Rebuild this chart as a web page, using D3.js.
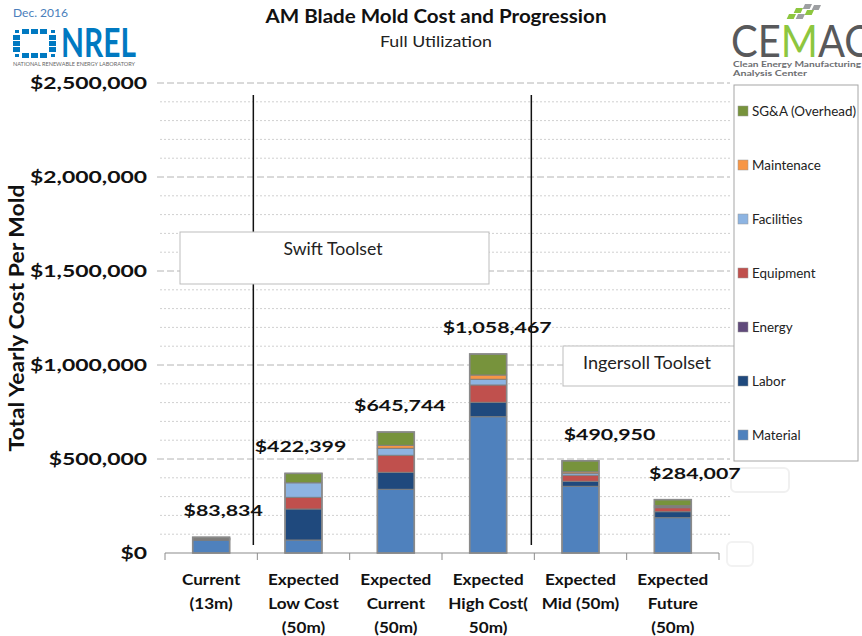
<!DOCTYPE html>
<html>
<head>
<meta charset="utf-8">
<script src="https://cdn.jsdelivr.net/npm/d3@7"></script>
<style>
  body { margin: 0; background: #fff; }
  text { font-family: Lato, "Open Sans", sans-serif; }
</style>
</head>
<body>
<div id="chart"></div>
<script>
var width = 862, height = 636;

// categories and their printed (multi-line) labels
var categories = ['Current', 'Low Cost', 'Exp Current', 'High Cost', 'Mid', 'Future'];
var catLines = [
  ['Current', '(13m)'],
  ['Expected', 'Low Cost', '(50m)'],
  ['Expected', 'Current', '(50m)'],
  ['Expected', 'High Cost(', '50m)'],
  ['Expected', 'Mid (50m)'],
  ['Expected', 'Future', '(50m)']
];

// series, bottom to top
var seriesNames = ['Material', 'Labor', 'Energy', 'Equipment', 'Facilities', 'Maintenace', 'SG&A (Overhead)'];
var seriesColors = ['#4f81bd', '#1f497d', '#604a7b', '#c0504d', '#8db4e2', '#f79646', '#77933c'];

var material    = [68000, 69200, 338800, 725000, 354800, 187800];
var labor       = [4000, 164800, 90400, 76600, 26600, 32000];
var energy      = [1200, 0, 0, 0, 0, 0];
var equipment   = [2000, 62000, 90400, 92000, 32000, 21200];
var facilities  = [1000, 77600, 37200, 30400, 10600, 5400];
var maintenance = [600, 0, 16000, 22800, 8000, 5400];
var sga         = [7000, 50000, 70800, 111800, 58600, 32000];

var totalLabels = ['$83,834', '$422,399', '$645,744', '$1,058,467', '$490,950', '$284,007'];

var yTicks = [0, 500000, 1000000, 1500000, 2000000, 2500000];

// layout tweaks
var labelDx = [12, -3, 4, 9, 29, 22];

var svg = d3.select('#chart').append('svg')
    .attr('width', width).attr('height', height);

var x = d3.scaleBand().domain(categories).range([165, 719])
    .paddingInner(0.6).paddingOuter(0.3);
var y = d3.scaleLinear().domain([0, 2500000]).range([553, 83]);

// stretch a selection of texts so a reference string hits a target width
function stretch(sel, k) {
  sel.each(function() {
    var w = this.getComputedTextLength();
    d3.select(this).attr('textLength', w * k).attr('lengthAdjust', 'spacingAndGlyphs');
  });
}
function fit(sel, w) {
  sel.attr('textLength', w).attr('lengthAdjust', 'spacingAndGlyphs');
}

// gridlines
var minor = d3.range(0, 2500001, 100000).filter(function(v) { return v % 500000 !== 0; });
svg.append('g').selectAll('line').data(minor).enter().append('line')
  .attr('x1', 160).attr('x2', 730)
  .attr('y1', function(d) { return y(d); }).attr('y2', function(d) { return y(d); })
  .attr('stroke', '#d0d0d0').attr('stroke-dasharray', '2,2');
svg.append('g').selectAll('line').data(yTicks.slice(1)).enter().append('line')
  .attr('x1', 157).attr('x2', 730)
  .attr('y1', function(d) { return y(d); }).attr('y2', function(d) { return y(d); })
  .attr('stroke', '#b4b4b4').attr('stroke-dasharray', '7,3');

// y axis labels
var yAxis = svg.append('g').attr('transform', 'translate(150,0)')
  .call(d3.axisLeft(y).tickValues(yTicks).tickFormat(d3.format('$,.0f')).tickSize(0).tickPadding(3));
yAxis.select('.domain').remove();
yAxis.selectAll('text')
  .attr('font-family', 'Lato, sans-serif')
  .attr('font-size', 17).attr('font-weight', 'bold').attr('fill', '#111');
(function() {
  var ref = yAxis.selectAll('text').filter(function(d) { return d === 2500000; }).node();
  var k = 117 / ref.getComputedTextLength();
  stretch(yAxis.selectAll('text'), k);
})();

// y axis title
var yTitle = svg.append('text')
  .attr('transform', 'translate(24,318) rotate(-90)')
  .attr('text-anchor', 'middle')
  .attr('font-size', 21).attr('font-weight', 'bold').attr('fill', '#111')
  .text('Total Yearly Cost Per Mold');
fit(yTitle, 267);

// x axis baseline and ticks
svg.append('line').attr('x1', 165).attr('x2', 719).attr('y1', y(0)).attr('y2', y(0))
  .attr('stroke', '#8c8c8c').attr('stroke-width', 1.2);
svg.append('g').selectAll('line').data(d3.range(categories.length + 1)).enter().append('line')
  .attr('x1', function(i) { return 165 + i * x.step(); })
  .attr('x2', function(i) { return 165 + i * x.step(); })
  .attr('y1', y(0)).attr('y2', y(0) + 7)
  .attr('stroke', '#8c8c8c');

// category labels
var catG = svg.append('g').selectAll('text').data(categories).enter().append('text')
  .attr('x', function(d) { return x(d) + x.bandwidth() / 2; })
  .attr('y', 585)
  .attr('text-anchor', 'middle')
  .attr('font-size', 16).attr('font-weight', 'bold').attr('fill', '#111');
catG.each(function(d, i) {
  var t = d3.select(this), cx = x(d) + x.bandwidth() / 2;
  catLines[i].forEach(function(line, j) {
    t.append('tspan').attr('x', cx).attr('dy', j === 0 ? 0 : 24).text(line);
  });
});
(function() {
  var probe = svg.append('text').attr('font-size', 16).attr('font-weight', 'bold').text('Expected');
  var k = 71 / probe.node().getComputedTextLength();
  probe.remove();
  catG.selectAll('tspan').each(function() {
    var w = this.getComputedTextLength();
    d3.select(this).attr('textLength', w * k).attr('lengthAdjust', 'spacingAndGlyphs');
  });
})();

// divider lines
[x('Low Cost') - x.step() * 0.3 - 4, x('Mid') - x.step() * 0.3 - 3].forEach(function(lx) {
  svg.append('line').attr('x1', lx).attr('x2', lx).attr('y1', 95).attr('y2', 545)
    .attr('stroke', '#111').attr('stroke-width', 1.5);
});

// stacked bars
var table = categories.map(function(c, i) {
  return {cat: c, Material: material[i], Labor: labor[i], Energy: energy[i], Equipment: equipment[i],
    Facilities: facilities[i], Maintenace: maintenance[i], 'SG&A (Overhead)': sga[i]};
});
var stacked = d3.stack().keys(seriesNames)(table);

var layers = svg.append('g').selectAll('g').data(stacked).enter().append('g')
  .attr('fill', function(d, i) { return seriesColors[i]; });
layers.selectAll('rect').data(function(d) { return d.filter(function(p) { return p[1] > p[0]; }); })
  .enter().append('rect')
  .attr('x', function(d) { return x(d.data.cat); })
  .attr('width', x.bandwidth())
  .attr('y', function(d) { return y(d[1]); })
  .attr('height', function(d) { return y(d[0]) - y(d[1]); })
  .attr('stroke', '#7f7f7f').attr('stroke-width', 1);

// outer outline of each bar
var totals = table.map(function(d) { return d3.sum(seriesNames, function(k) { return d[k]; }); });
svg.append('g').selectAll('rect').data(categories).enter().append('rect')
  .attr('x', function(d) { return x(d); })
  .attr('width', x.bandwidth())
  .attr('y', function(d, i) { return y(totals[i]); })
  .attr('height', function(d, i) { return y(0) - y(totals[i]); })
  .attr('fill', 'none').attr('stroke', '#8a8a8a').attr('stroke-width', 1.6);

// annotation boxes
svg.append('rect').attr('x', 180).attr('y', 232).attr('width', 309).attr('height', 52)
  .attr('fill', '#fff').attr('stroke', '#bdbdbd');
fit(svg.append('text').attr('x', 333).attr('y', 255).attr('text-anchor', 'middle')
  .attr('font-size', 17).attr('fill', '#222').text('Swift Toolset'), 99);

svg.append('rect').attr('x', 563).attr('y', 346).attr('width', 176).attr('height', 40)
  .attr('fill', '#fff').attr('stroke', '#bdbdbd');
fit(svg.append('text').attr('x', 647).attr('y', 369).attr('text-anchor', 'middle')
  .attr('font-size', 17).attr('fill', '#222').text('Ingersoll Toolset'), 128);

// legend
svg.append('rect').attr('x', 734).attr('y', 85).attr('width', 124).attr('height', 376)
  .attr('fill', '#fff').attr('stroke', '#a6a6a6');
var legendOrder = seriesNames.slice().reverse();
var leg = svg.append('g').selectAll('g').data(legendOrder).enter().append('g')
  .attr('transform', function(d, i) { return 'translate(738,' + (111 + i * 54) + ')'; });
leg.append('rect').attr('x', 0).attr('y', -5).attr('width', 10).attr('height', 10)
  .attr('fill', function(d) { return seriesColors[seriesNames.indexOf(d)]; })
  .attr('stroke', '#999').attr('stroke-width', 0.5);
var legText = leg.append('text').attr('x', 14).attr('y', 5)
  .attr('font-size', 13.5).attr('fill', '#222').text(function(d) { return d; });
(function() {
  var k = 104 / legText.filter(function(d) { return d === 'SG&A (Overhead)'; }).node().getComputedTextLength();
  stretch(legText, k);
})();

// faint ghost boxes
svg.append('rect').attr('x', 731).attr('y', 468).attr('width', 58).attr('height', 24).attr('rx', 5)
  .attr('fill', 'none').attr('stroke', '#f0f0f0').attr('stroke-width', 2);
svg.append('rect').attr('x', 727).attr('y', 542).attr('width', 26).attr('height', 24).attr('rx', 5)
  .attr('fill', 'none').attr('stroke', '#f2f2f2').attr('stroke-width', 2);

// total labels (drawn on top of everything)
var valLabels = svg.append('g').selectAll('text').data(categories).enter().append('text')
  .attr('x', function(d, i) { return x(d) + x.bandwidth() / 2 + labelDx[i]; })
  .attr('y', function(d, i) { return y(totals[i]) - 21; })
  .attr('text-anchor', 'middle')
  .attr('font-size', 16).attr('font-weight', 'bold').attr('fill', '#111')
  .text(function(d, i) { return totalLabels[i]; });
(function() {
  var k = 109 / valLabels.filter(function(d, i) { return i === 3; }).node().getComputedTextLength();
  stretch(valLabels, k);
})();

// titles
fit(svg.append('text').attr('x', 436).attr('y', 23).attr('text-anchor', 'middle')
  .attr('font-size', 19).attr('font-weight', 'bold').attr('fill', '#111')
  .text('AM Blade Mold Cost and Progression'), 341);
fit(svg.append('text').attr('x', 436).attr('y', 47).attr('text-anchor', 'middle')
  .attr('font-size', 15).attr('fill', '#222').text('Full Utilization'), 112);

// NREL block
fit(svg.append('text').attr('x', 13).attr('y', 17).attr('font-size', 12).attr('fill', '#4a7ebb')
  .text('Dec. 2016'), 55);
var nrel = svg.append('g').attr('fill', '#0079c1');
var ring = [[1,0],[2,0],[3,0],[0,1],[4,1],[0,2],[4,2],[0,3],[4,3],[1,4],[2,4],[3,4]];
ring.forEach(function(p) {
  nrel.append('rect').attr('x', 13 + p[0] * 9).attr('y', 29 + p[1] * 6).attr('width', 7).attr('height', 5);
});
[[0,0],[4,0],[0,4],[4,4]].forEach(function(p) {
  nrel.append('rect').attr('x', 15 + p[0] * 9).attr('y', 30 + p[1] * 6).attr('width', 4).attr('height', 3);
});
fit(nrel.append('text').attr('x', 61).attr('y', 57).attr('font-family', '"Liberation Sans", Arial, sans-serif')
  .attr('font-size', 40).attr('font-weight', 'bold').text('NREL'), 75);
fit(svg.append('text').attr('x', 13).attr('y', 66).attr('font-size', 5).attr('fill', '#666')
  .text('NATIONAL RENEWABLE ENERGY LABORATORY'), 122);

// CEMAC block
var tiles = svg.append('g');
[[796, 8, '#8dc63f'], [805, 4, '#9d9fa2'], [789, 14, '#8dc63f'], [798, 14, '#9d9fa2'], [807, 10, '#8dc63f'], [814, 5, '#9d9fa2']].forEach(function(t) {
  tiles.append('rect').attr('x', t[0]).attr('y', t[1]).attr('width', 7).attr('height', 5)
    .attr('fill', t[2]).attr('transform', 'skewX(-25)').attr('transform-origin', t[0] + ' ' + t[1]);
});
var cem = svg.append('text').attr('x', 731).attr('y', 57).attr('font-size', 45).attr('fill', '#58595b');
cem.append('tspan').text('CE');
cem.append('tspan').attr('fill', '#8dc63f').text('M');
cem.append('tspan').text('AC');
fit(cem, 140);
fit(svg.append('text').attr('x', 733).attr('y', 67).attr('font-size', 7.5).attr('font-weight', 'bold')
  .attr('fill', '#6d6e71').text('Clean Energy Manufacturing'), 128);
fit(svg.append('text').attr('x', 733).attr('y', 76).attr('font-size', 7.5).attr('font-weight', 'bold')
  .attr('fill', '#6d6e71').text('Analysis Center'), 74);
</script>
</body>
</html>
